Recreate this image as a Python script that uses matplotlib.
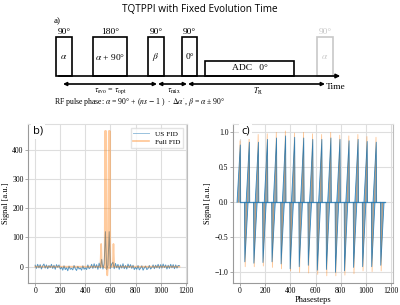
import numpy as np
import matplotlib
matplotlib.use('Agg')
import matplotlib.pyplot as plt
from matplotlib.patches import Rectangle

plt.rcParams['mathtext.fontset'] = 'stix'

# ---------------- data ----------------
title = "TQTPPI with Fixed Evolution Time"

# b) US FID sampled every 10 points
us_step = 10
us_fid = [5, -6, 8, -4, 7, -8, 3, 9, -5, 6, -7, 4, -3, 8, -6, 5, -9, 7, -2, 6,
          -8, -2, -12, 3, -10, -4, -14, 2, -9, -6, -11, 4, -7, -13, 1, -8, -5, -12, 3, -9,
          -4, -10, 6, -7, -3, 8, -6, 10, -4, 7, -9, 12, -5, 25, -8, 10, 120, -10, 5, 120,
          -6, 9, 15, -7, 11, -4, 8, -9, 6, -5, 10, -7, 4, -8, 9, -3, 7, -6, 5, -10,
          -2, -9, 4, -11, -5, 3, -12, -4, 2, -10, -6, 4, -8, -3, 6, -7, 5, -4, 8, -6,
          7, -5, 9, -3, 6, -8, 5, -6, 8, -4, 7, -7, 6, -5, 4, 3]
full_x = [0, 520, 526, 532, 554, 557, 561, 565, 569, 575, 580, 587, 591, 595, 599, 618, 624, 630, 1150]
full_y = [0, 0, 78, 0, 0, 465, -5, 465, 0, -30, 0, 465, -5, 465, 0, 0, 78, 0, 0]
b_xticks = [0, 200, 400, 600, 800, 1000, 1200]
b_yticks = [0, 100, 200, 300, 400]

# c) phase-cycled signal: spike positions and heights
c_pos_steps = [2, 74, 146, 218, 290, 362, 434, 506, 578, 650, 722, 794, 866, 938, 1010, 1082]
c_pos_us = [0.82, 0.86, 0.86, 0.90, 0.92, 0.95, 0.93, 0.92, 0.90, 0.90, 0.92, 0.90, 0.88, 0.90, 0.87, 0.86]
c_pos_full = [0.88, 0.95, 0.97, 0.98, 1.00, 1.02, 0.99, 1.00, 0.98, 0.97, 1.00, 0.96, 0.95, 0.97, 0.94, 0.93]
c_neg_steps = [38, 110, 182, 254, 326, 398, 470, 542, 614, 686, 758, 830, 902, 974, 1046, 1118]
c_neg_us = [-0.85, -0.87, -0.86, -0.85, -0.88, -0.95, -0.92, -0.90, -0.97, -0.96, -1.00, -0.98, -0.93, -0.92, -0.92, -0.90]
c_neg_full = [-0.92, -0.92, -0.91, -0.93, -0.95, -0.98, -1.00, -1.01, -1.03, -1.05, -1.05, -1.04, -1.02, -0.98, -0.99, -0.98]
c_xticks = [0, 200, 400, 600, 800, 1000, 1200]
c_yticks = [-1.0, -0.5, 0.0, 0.5, 1.0]

BLUE = '#1f77b4'
ORANGE = '#ff7f0e'
SERIF = 'Liberation Serif'
SANS = 'Open Sans'

fig = plt.figure(figsize=(4, 3.05), dpi=100)

# ---------------- a) sequence diagram ----------------
ax0 = fig.add_axes([0, 0, 1, 1])
ax0.set_xlim(0, 400)
ax0.set_ylim(305, 0)
ax0.axis('off')

fig.text(0.5, 1 - 10 / 305, title, ha='center', va='center', fontsize=7.2, family=SANS)
ax0.text(54, 21, 'a)', fontsize=6.5, family=SERIF, ha='left', va='center')

pulses = [  # x0, x1, top, label, inner, color
    (56, 72, 37, '90°', r'$\alpha$', 'black'),
    (93, 127, 37, '180°', r'$\alpha$ + 90°', 'black'),
    (148, 164, 37, '90°', r'$\beta$', 'black'),
    (182, 197, 37, '90°', '0°', 'black'),
    (317, 333, 37, '90°', r'$\alpha$', '#c8c8c8'),
]
for x0, x1, top, lab, inner, col in pulses:
    ax0.add_patch(Rectangle((x0, top), x1 - x0, 76 - top, fill=False, ec=col, lw=1.2))
    ax0.text((x0 + x1) / 2, top - 5, lab, ha='center', va='center', fontsize=6.8, family=SERIF, color=col)
    ax0.text((x0 + x1) / 2, 57, inner, ha='center', va='center', fontsize=6.8, family=SERIF, color=col)
ax0.add_patch(Rectangle((205, 61), 89, 15, fill=False, ec='black', lw=1.2))
ax0.text(250, 68.5, 'ADC   0°', ha='center', va='center', fontsize=6.8, family=SERIF)

# baseline with arrow
ax0.annotate('', xy=(343, 76), xytext=(56, 76),
             arrowprops=dict(arrowstyle='-|>', lw=1.2, color='black', mutation_scale=6))
# timing arrows
for xa, xb in [(63, 157), (158, 187), (188, 325)]:
    ax0.annotate('', xy=(xb, 84), xytext=(xa, 84),
                 arrowprops=dict(arrowstyle='<|-|>', lw=1.2, color='black', mutation_scale=5,
                                 shrinkA=0, shrinkB=0))
ax0.text(326, 87, 'Time', ha='left', va='center', fontsize=6.8, family=SERIF)
ax0.text(110, 91, r'$\tau_{\rm evo}$ = $\tau_{\rm opt}$', ha='center', va='center', fontsize=5.8, family=SERIF)
ax0.text(174, 91, r'$\tau_{\rm mix}$', ha='center', va='center', fontsize=5.8, family=SERIF)
ax0.text(258, 91, r'$T_{\rm R}$', ha='center', va='center', fontsize=5.8, family=SERIF)
ax0.text(54, 102, r"RF pulse phase: $\alpha$ = 90° + ($ns$ $-$ 1 )  $\cdot$ $\Delta\alpha'$, $\beta$ = $\alpha$ ± 90°",
         ha='left', va='center', fontsize=5.6, family=SERIF)


def style_axes(ax):
    ax.set_facecolor('white')
    ax.grid(True, color='#dedede', lw=0.8)
    ax.set_axisbelow(True)
    for s in ax.spines.values():
        s.set_color('#9a9a9a')
        s.set_linewidth(0.8)
    ax.spines['top'].set_color('#dedede')
    ax.spines['right'].set_color('#bdbdbd')
    ax.tick_params(labelsize=5.5, length=2, width=0.6, color='#9a9a9a', pad=1.2)
    for lab in ax.get_xticklabels() + ax.get_yticklabels():
        lab.set_family(SERIF)


# ---------------- b) ----------------
axb = fig.add_axes([28 / 400, 22 / 305, 159 / 400, 159 / 305])
us_x = np.arange(len(us_fid)) * us_step
axb.plot(us_x, us_fid, color=BLUE, lw=0.7, alpha=0.75, label='US FID')
axb.plot(full_x, full_y, color=ORANGE, lw=1.2, alpha=0.4, label='Full FID')
axb.set_xlim(-57, 1210)
axb.set_ylim(-56, 489)
axb.set_xticks(b_xticks)
axb.set_yticks(b_yticks)
axb.set_ylabel('Signal [a.u.]', family=SERIF, fontsize=6)
axb.yaxis.set_label_coords(-0.115, 0.5)
style_axes(axb)
leg = axb.legend(loc='upper right', prop={'family': SERIF, 'size': 5.2}, frameon=True,
                 fancybox=False, edgecolor='#dddddd', handlelength=2.2, borderpad=0.4,
                 labelspacing=0.3, handletextpad=0.8)
for ln in leg.get_lines():
    ln.set_alpha(0.45)
axb.text(0.03, 0.955, 'b)', transform=axb.transAxes, fontsize=8, family=SANS, ha='left', va='center',
         bbox=dict(fc='white', ec='none', pad=1.5))

# ---------------- c) ----------------
axc = fig.add_axes([233 / 400, 22 / 305, 160 / 400, 159 / 305])
for s, h in zip(c_pos_steps, c_pos_full):
    axc.fill([s - 14, s - 2, s + 2], [0, h, 0], color=ORANGE, alpha=0.18, lw=0)
    axc.plot([s - 14, s - 2, s + 2], [0, h, 0], color=ORANGE, alpha=0.45, lw=0.6)
for s, h in zip(c_neg_steps, c_neg_full):
    axc.fill([s - 1, s + 3, s + 14], [0, h, 0], color=ORANGE, alpha=0.18, lw=0)
    axc.plot([s - 1, s + 3, s + 14], [0, h, 0], color=ORANGE, alpha=0.45, lw=0.6)
for s, h in zip(c_pos_steps, c_pos_us):
    axc.fill([s - 26, s, s + 3], [0, h, 0], color=BLUE, alpha=0.55, lw=0)
    axc.plot([s - 26, s, s + 3], [0, h, 0], color=BLUE, alpha=0.85, lw=0.6)
for s, h in zip(c_neg_steps, c_neg_us):
    axc.fill([s - 3, s, s + 26], [0, h, 0], color=BLUE, alpha=0.55, lw=0)
    axc.plot([s - 3, s, s + 26], [0, h, 0], color=BLUE, alpha=0.85, lw=0.6)
axc.plot([0, 1150], [0, 0], color=BLUE, lw=0.9, alpha=0.8)
axc.set_xlim(-56, 1215)
axc.set_ylim(-1.153, 1.12)
axc.set_xticks(c_xticks)
axc.set_yticks(c_yticks)
axc.set_xlabel('Phasesteps', family=SERIF, fontsize=6, labelpad=0.5)
axc.set_ylabel('Signal [a.u.]', family=SERIF, fontsize=6)
axc.yaxis.set_label_coords(-0.13, 0.5)
style_axes(axc)
axc.text(0.05, 0.955, 'c)', transform=axc.transAxes, fontsize=8, family=SANS, ha='left', va='center',
         bbox=dict(fc='white', ec='none', pad=1.5))

fig.savefig('out.png', dpi=100)
